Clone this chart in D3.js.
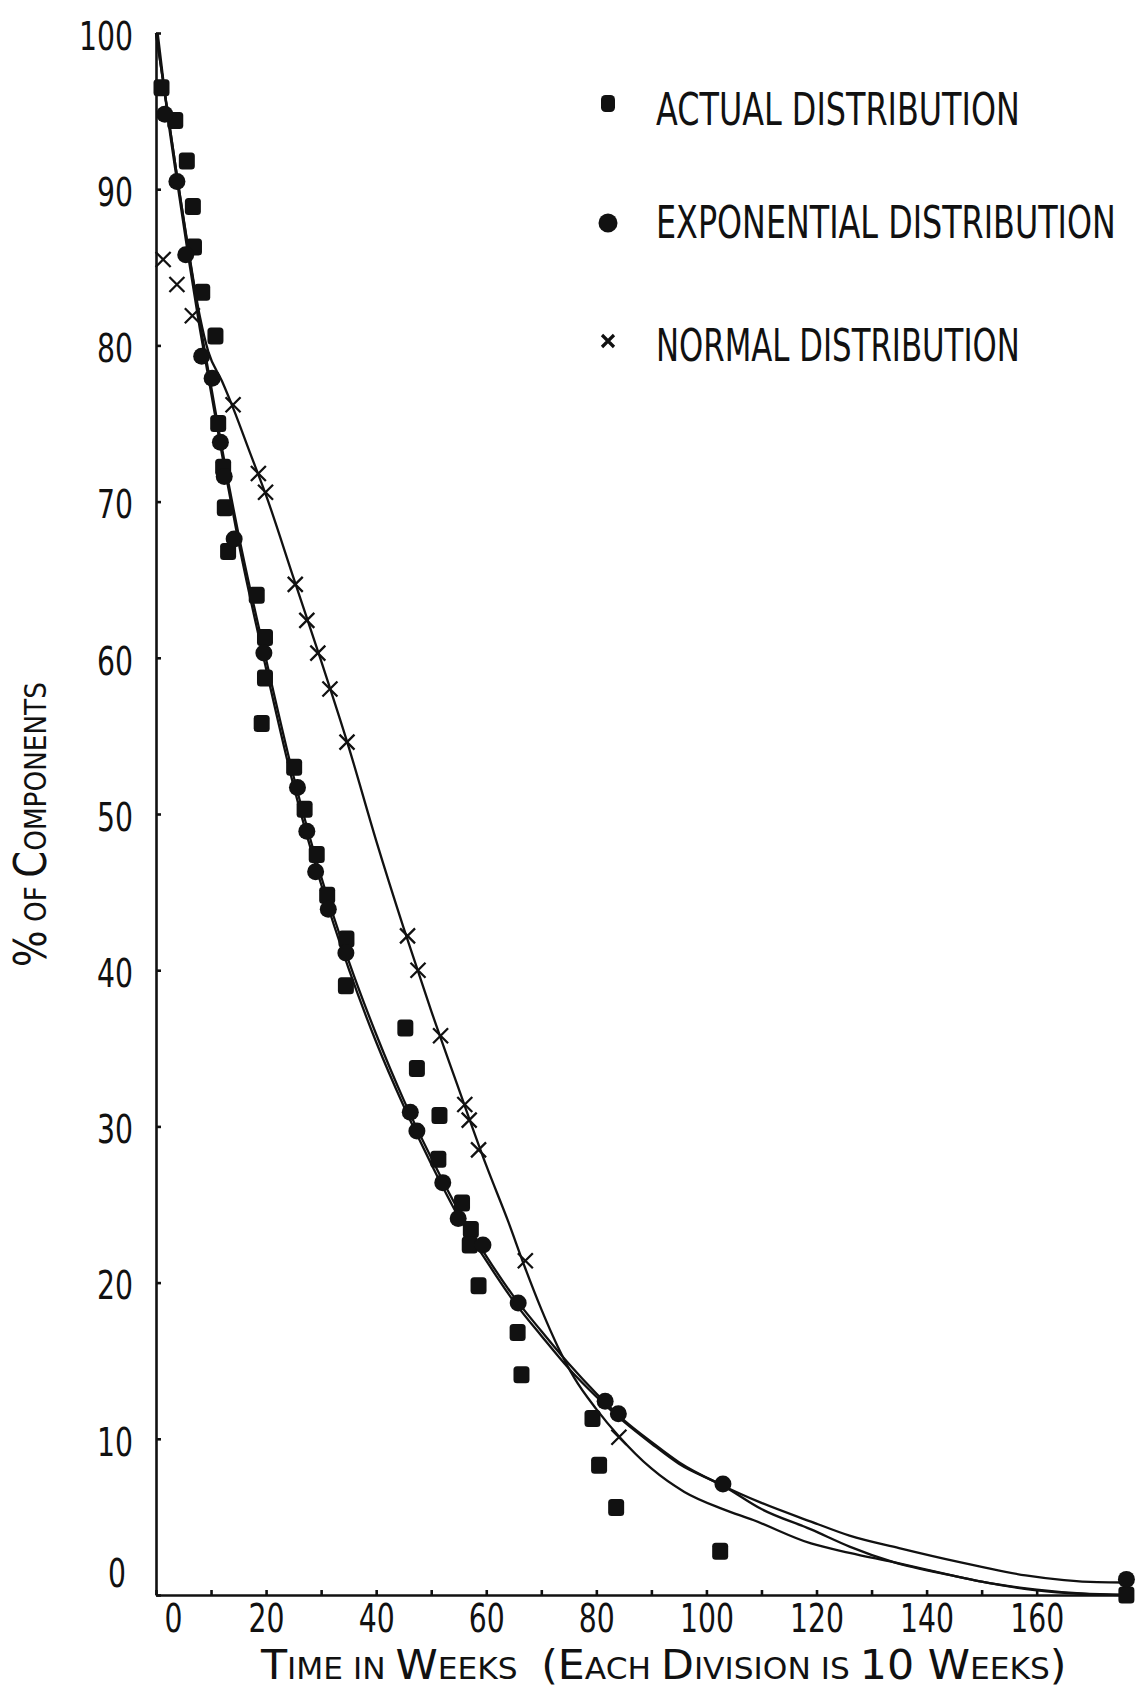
<!DOCTYPE html>
<html>
<head>
<meta charset="utf-8">
<script src="https://cdn.jsdelivr.net/npm/d3@7"></script>
<style>
  body { margin: 0; background: #fff; }
  svg { display: block; }
  text { font-family: "DejaVu Sans", sans-serif; fill: #111; }
</style>
</head>
<body>
<div id="chart"></div>
<script>
// tick values
var yTicks = [0, 10, 20, 30, 40, 50, 60, 70, 80, 90, 100];
var xTicks = [0, 10, 20, 30, 40, 50, 60, 70, 80, 90, 100, 110, 120, 130, 140, 150, 160];
var xLabelled = [0, 20, 40, 60, 80, 100, 120, 140, 160];

// points [weeks, % of components]
var actualPts = [
  [1.0, 96.5], [3.5, 94.4], [5.6, 91.8], [6.7, 88.9], [6.9, 86.3], [8.4, 83.4],
  [10.8, 80.6], [11.3, 75.0], [12.2, 72.2], [12.5, 69.6], [13.1, 66.8], [18.3, 64.0],
  [19.8, 61.3], [19.8, 58.7], [19.2, 55.8], [25.1, 53.0], [27.0, 50.3], [29.2, 47.4],
  [31.1, 44.8], [34.6, 42.0], [34.5, 39.0], [45.3, 36.3], [47.4, 33.7], [51.5, 30.7],
  [51.3, 27.9], [55.6, 25.1], [57.2, 23.4], [57.0, 22.4], [58.6, 19.8], [65.7, 16.8],
  [66.4, 14.1], [79.3, 11.3], [80.5, 8.3], [83.6, 5.6], [102.5, 2.8], [176.3, 0]
];
var expoPts = [
  [1.6, 94.8], [3.8, 90.5], [5.4, 85.8], [8.3, 79.3], [10.2, 77.9], [11.7, 73.8],
  [12.4, 71.6], [14.2, 67.6], [19.6, 60.3], [25.7, 51.7], [27.4, 48.9], [29.0, 46.3],
  [31.3, 43.9], [34.5, 41.1], [46.2, 30.9], [47.4, 29.7], [52.1, 26.4], [54.9, 24.1],
  [59.4, 22.4], [65.8, 18.7], [81.6, 12.4], [84.0, 11.6], [103.0, 7.1], [176.3, 1.0]
];
var normalPts = [
  [1.3, 85.5], [3.8, 83.9], [6.6, 81.9], [14.0, 76.2], [18.6, 71.8], [19.9, 70.6],
  [25.3, 64.7], [27.4, 62.4], [29.4, 60.3], [31.6, 58.0], [34.7, 54.6], [45.7, 42.2],
  [47.6, 40.0], [51.7, 35.8], [56.1, 31.4], [56.9, 30.4], [58.6, 28.5], [67.1, 21.4],
  [84.1, 10.1]
];

// drawn curves
var expoCurve = [
  [0, 100], [2, 95.2], [4, 90.4], [6, 85.8], [8, 81.4], [10, 77.4], [12, 73.4], [15, 67.9],
  [20, 59.9], [25, 52.4], [30, 46], [35, 40.6], [40, 35.9], [45, 31.7], [50, 28], [55, 24.6],
  [60, 21.7], [65, 19.1], [70, 16.9], [75, 14.8], [80, 12.9], [85, 11.2], [90, 9.8], [95, 8.5],
  [103, 7.0], [110, 5.9], [119, 4.7], [126, 3.8], [135, 3.0], [146, 2.1], [150, 1.8],
  [158, 1.25], [165, 0.95], [171, 0.82], [176.3, 0.8]
];
var actualCurve = [
  [0.3, 100], [2, 95], [4, 90.1], [6, 85.4], [8, 81], [10, 77], [12, 73], [15, 67.4],
  [20, 59.3], [25, 51.8], [30, 45.5], [35, 40.1], [40, 35.4], [45, 31.3], [50, 27.6],
  [55, 24.2], [60, 21.4], [65, 18.8], [70, 16.6], [75, 14.5], [80, 12.7], [85, 11.1],
  [90, 9.7], [95, 8.4], [103, 7.0], [110, 5.5], [119, 4.2], [126, 3.1], [134, 2.1],
  [146, 1.15], [150, 0.85], [160, 0.35], [168, 0.1], [176.3, 0]
];
var normalCurve = [
  [0, 100], [2, 95.2], [4, 90.4], [6, 85.9], [8, 81.8], [9.5, 79.6], [12, 77.7], [14, 76],
  [17, 73.2], [20, 70.4], [25, 65.1], [30, 59.8], [35, 54.3], [40, 48.3], [45, 42.7],
  [50, 37.4], [55, 32.4], [60, 27.5], [64, 23.9], [67, 21.0], [70, 18.3], [73, 15.9],
  [76, 13.9], [80, 11.9], [84, 10.2], [90, 8.1], [96, 6.6], [103, 5.5], [108.5, 4.8],
  [119, 3.3], [126, 2.7], [134, 2.1], [146, 1.15], [150, 0.85], [160, 0.3], [168, 0.08],
  [176.3, 0]
];

var legendItems = ['ACTUAL DISTRIBUTION', 'EXPONENTIAL DISTRIBUTION', 'NORMAL DISTRIBUTION'];

var W = 1138, H = 1695;
var svg = d3.select('#chart').append('svg')
  .attr('width', W)
  .attr('height', H);

var x = d3.scaleLinear().domain([0, 177.5]).range([156, 1133]);
var y = d3.scaleLinear().domain([0, 100]).range([1595, 33]);

// y axis, ticks point inward
var yAxis = d3.axisLeft(y)
  .tickValues(yTicks)
  .tickSizeInner(-5)
  .tickSizeOuter(0)
  .tickPadding(23);

var gy = svg.append('g')
  .attr('transform', 'translate(' + x(0) + ',0)')
  .call(yAxis);

var xAxis = d3.axisBottom(x)
  .tickValues(xTicks)
  .tickSizeInner(-5)
  .tickSizeOuter(0)
  .tickPadding(9)
  .tickFormat(function(d) { return xLabelled.indexOf(d) >= 0 ? d : ''; });

var gx = svg.append('g')
  .attr('transform', 'translate(0,' + y(0) + ')')
  .call(xAxis);

[gx, gy].forEach(function(g) {
  g.select('.domain').attr('stroke', '#111').attr('stroke-width', 2.6);
  g.selectAll('.tick line').attr('stroke', '#111').attr('stroke-width', 2.6);
  g.selectAll('.tick text')
    .attr('font-family', '"DejaVu Sans", sans-serif')
    .attr('font-size', 39)
    .attr('fill', '#111')
    .attr('lengthAdjust', 'spacingAndGlyphs')
    .each(function() {
      var s = d3.select(this).text();
      if (s.length) d3.select(this).attr('textLength', s.length * 18);
    });
});
gy.selectAll('.tick text').attr('dy', '0.42em');
// the zero labels sit off the corner
gy.selectAll('.tick').filter(function(d) { return d === 0; })
  .select('text').attr('dy', '-0.22em').attr('dx', -7);
gx.selectAll('.tick').filter(function(d) { return d === 0; })
  .select('text').attr('dx', 17);

// curves
var line = d3.line()
  .x(function(d) { return x(d[0]); })
  .y(function(d) { return y(d[1]); })
  .curve(d3.curveMonotoneX);

[normalCurve, actualCurve, expoCurve].forEach(function(c) {
  svg.append('path')
    .datum(c)
    .attr('d', line)
    .attr('fill', 'none')
    .attr('stroke', '#111')
    .attr('stroke-width', 2.3);
});

// markers
svg.append('g').selectAll('rect')
  .data(actualPts)
  .enter()
  .append('rect')
    .attr('x', function(d) { return x(d[0]) - 8; })
    .attr('y', function(d) { return y(d[1]) - 8.5; })
    .attr('width', 16)
    .attr('height', 17)
    .attr('rx', 3.5)
    .attr('fill', '#111');

svg.append('g').selectAll('circle')
  .data(expoPts)
  .enter()
  .append('circle')
    .attr('cx', function(d) { return x(d[0]); })
    .attr('cy', function(d) { return y(d[1]); })
    .attr('r', 8.5)
    .attr('fill', '#111');

function cross(s) {
  return 'M' + (-s) + ',' + (-s) + 'L' + s + ',' + s + 'M' + (-s) + ',' + s + 'L' + s + ',' + (-s);
}

svg.append('g').selectAll('path')
  .data(normalPts)
  .enter()
  .append('path')
    .attr('transform', function(d) { return 'translate(' + x(d[0]) + ',' + y(d[1]) + ')'; })
    .attr('d', cross(7.5))
    .attr('stroke', '#111')
    .attr('stroke-width', 2.3)
    .attr('fill', 'none');

// squeeze a text into a given width (the lettering is narrow)
function fitText(t, pre, width) {
  var len = t.node().getComputedTextLength();
  t.attr('transform', pre + ' scale(' + (width / len) + ',1)');
}

// legend
var legY = [125, 238, 361];
var legLen = [364, 460, 364];
var lg = svg.append('g');
lg.append('rect').attr('x', 601).attr('y', 95).attr('width', 14).attr('height', 17).attr('rx', 4.5).attr('fill', '#111');
lg.append('circle').attr('cx', 608).attr('cy', 223).attr('r', 9.5).attr('fill', '#111');
lg.append('path').attr('transform', 'translate(608,341)').attr('d', cross(6))
  .attr('stroke', '#111').attr('stroke-width', 3.2);
legendItems.forEach(function(t, i) {
  var tx = lg.append('text')
    .attr('font-size', 45)
    .text(t);
  fitText(tx, 'translate(656,' + legY[i] + ')', legLen[i]);
});

// small-caps titles
function smallCaps(sel, parts, big, small) {
  parts.forEach(function(p) {
    sel.append('tspan')
      .attr('font-size', p[1] ? big : small)
      .text(p[0]);
  });
}

var xt = svg.append('text');
smallCaps(xt, [
  ['T', 1], ['IME IN ', 0], ['W', 1], ['EEKS ', 0], ['\u00a0(E', 1], ['ACH ', 0],
  ['D', 1], ['IVISION IS ', 0], ['10 W', 1], ['EEKS', 0], [')', 1]
], 41, 30);
fitText(xt, 'translate(261,1679)', 806);

var yt = svg.append('text');
smallCaps(yt, [['%', 1], [' OF ', 0], ['C', 1], ['OMPONENTS', 0]], 44, 30);
fitText(yt, 'translate(46,967) rotate(-90)', 285);
</script>
</body>
</html>
